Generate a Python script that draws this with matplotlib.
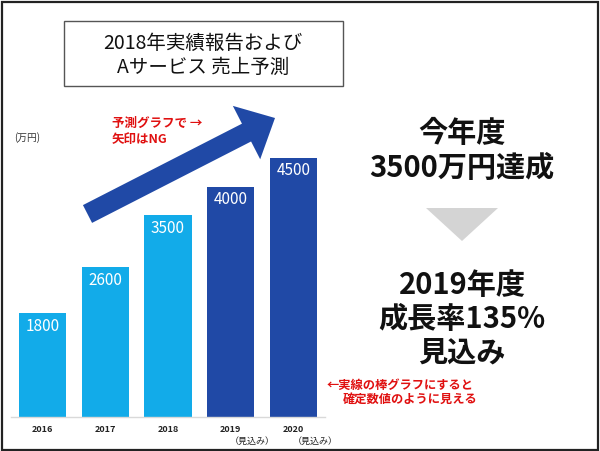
import matplotlib
matplotlib.use('Agg')
from matplotlib import pyplot as plt
from matplotlib.patches import FancyArrow, Polygon, Rectangle

plt.rcParams['font.family'] = ['Noto Sans CJK JP', 'DejaVu Sans']

# データ
years = ['2016', '2017', '2018', '2019', '2020']
sales = [1800, 2600, 3500, 4000, 4500]
forecast = [False, False, False, True, True]
light_blue = '#12abe9'
dark_blue = '#2049a6'
colors = [dark_blue if f else light_blue for f in forecast]

fig = plt.figure(figsize=(6, 4.51), dpi=100)

# 棒グラフ (ピクセル位置から割り出した軸)
ax = fig.add_axes([11 / 600, 34 / 451, 314 / 600, 288 / 451])
x = list(range(len(years)))
bars = ax.bar(x, sales, width=0.75, color=colors)
ax.set_xlim(-0.5, 4.5)
ax.set_ylim(0, 5000)
for s in ['top', 'right', 'left']:
    ax.spines[s].set_visible(False)
ax.spines['bottom'].set_color('#d9d9d9')
ax.spines['bottom'].set_linewidth(1)
ax.set_yticks([])
ax.set_xticks(x)
ax.set_xticklabels(years, fontsize=6.5, fontweight='bold', color='#222222')
ax.tick_params(axis='x', length=0, pad=6)

# 棒の中の数値
for xi, v in zip(x, sales):
    ax.annotate(str(v), (xi, v), xytext=(0, -9.5), textcoords='offset points',
                ha='center', va='center', color='white', fontsize=11)

# 見込み
for xi, f in zip(x, forecast):
    if f:
        ax.annotate('（見込み）', (xi, 0), xycoords=('data', 'axes fraction'),
                    xytext=(15.5, -17.5), textcoords='offset points',
                    ha='center', va='center', fontsize=6.5, color='#222222')

# 装飾用のオーバーレイ (ピクセル座標)
ov = fig.add_axes([0, 0, 1, 1])
ov.set_xlim(0, 600)
ov.set_ylim(451, 0)
ov.axis('off')
ov.patch.set_alpha(0)

# 外枠
ov.add_patch(Rectangle((1.5, 1.5), 596, 448, fill=False, ec='#222222', lw=1.6))

# タイトルの枠
ov.add_patch(Rectangle((64, 21), 279, 65, fill=False, ec='#555555', lw=1))
ov.text(203, 43, '2018年実績報告および', ha='center', va='center', fontsize=14, color='#111111')
ov.text(203, 67, 'Aサービス 売上予測', ha='center', va='center', fontsize=14, color='#111111')

ov.text(14, 138, '(万円)', ha='left', va='center', fontsize=7, color='#333333')

# 矢印
ov.add_patch(FancyArrow(87.5, 214, 187.5, -96, width=20, head_width=60, head_length=32,
                        length_includes_head=True, color=dark_blue, lw=0))

ov.text(112, 123, '予測グラフで →', ha='left', va='center', fontsize=9,
        fontweight='bold', color='#e01010')
ov.text(112, 140, '矢印はNG', ha='left', va='center', fontsize=9,
        fontweight='bold', color='#e01010')

# 右側のテキスト
big = dict(ha='center', va='center', fontsize=21, fontweight='bold', color='#111111')
ov.text(462, 133, '今年度', **big)
ov.text(462, 168, '3500万円達成', **big)
ov.add_patch(Polygon([(426, 208), (498, 208), (462, 241)], closed=True, color='#d4d4d4', lw=0))
ov.text(462, 285, '2019年度', **big)
ov.text(462, 319, '成長率135%', **big)
ov.text(462, 353, '見込み', **big)

ov.text(327, 385, '←実線の棒グラフにすると', ha='left', va='center', fontsize=8.8,
        fontweight='bold', color='#e01010')
ov.text(343, 399, '確定数値のように見える', ha='left', va='center', fontsize=8.8,
        fontweight='bold', color='#e01010')

fig.savefig('out.png', dpi=100)
